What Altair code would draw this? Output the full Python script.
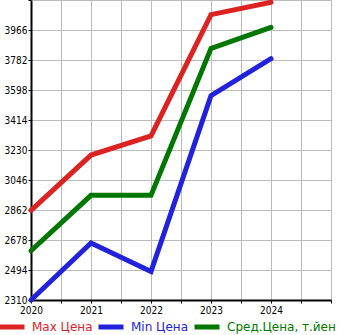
import altair as alt
import pandas as pd

years = [2020, 2021, 2022, 2023, 2024]
max_vals = [2860, 3199, 3316, 4060, 4136]
min_vals = [2310, 2660, 2484, 3563, 3790]
avg_vals = [2612, 2952, 2952, 3853, 3982]
series_names = ["Max Цена", "Min Цена", "Сред.Цена, т.йен"]
series_colors = ["#dd2222", "#2222dd", "#007700"]
y_ticks = [2310, 2494, 2678, 2862, 3046, 3230, 3414, 3598, 3782, 3966, 4150]
x_ticks = [2020, 2020.5, 2021, 2021.5, 2022, 2022.5, 2023, 2023.5, 2024, 2024.5, 2025]

rows = []
for name, vals in zip(series_names, [max_vals, min_vals, avg_vals]):
    for yr, v in zip(years, vals):
        rows.append({"year": yr, "value": v, "series": name})
df = pd.DataFrame(rows)

label_color_expr = (
    "datum.label == 'Max Цена' ? '#dd2222' : "
    "(datum.label == 'Min Цена' ? '#2222dd' : '#007700')"
)

font = "DejaVu Sans Condensed, DejaVu Sans"

chart = alt.Chart(df).mark_line(strokeWidth=5, strokeCap="round", strokeJoin="miter", clip=False).encode(
    x=alt.X("year:Q", scale=alt.Scale(domain=[2020, 2025], nice=False, zero=False),
            axis=alt.Axis(values=x_ticks, title=None, grid=True, gridColor="#bbbbbb",
                          domainColor="#000000", domainWidth=2, tickColor="#000000",
                          tickSize=3, labelFont=font, labelFontSize=10, labelColor="#000000",
                          labelPadding=2, labelFlush=False,
                          labelExpr="(datum.value % 1 == 0 && datum.value < 2025) ? format(datum.value, 'd') : ''")),
    y=alt.Y("value:Q", scale=alt.Scale(domain=[2310, 4150], nice=False, zero=False),
            axis=alt.Axis(values=y_ticks, title=None, grid=True, gridColor="#bbbbbb",
                          domainColor="#000000", domainWidth=2, tickColor="#000000",
                          tickSize=3, labelFont=font, labelFontSize=10, labelColor="#000000",
                          labelPadding=1, labelFlush=False, labelBaseline="middle",
                          labelExpr="datum.value >= 4150 ? '' : format(datum.value, 'd')")),
    color=alt.Color("series:N",
                    scale=alt.Scale(domain=series_names, range=series_colors),
                    sort=series_names,
                    legend=alt.Legend(title=None, orient="none", direction="horizontal",
                                      legendX=-34, legendY=312, symbolType="stroke",
                                      symbolSize=625, symbolStrokeWidth=5,
                                      labelFont="DejaVu Sans", labelFontSize=12,
                                      labelColor=alt.ExprRef(label_color_expr),
                                      labelOffset=5, columnPadding=-5, padding=0)),
).properties(
    width=300, height=300,
    autosize=alt.AutoSizeParams(type="none"),
    padding={"left": 31, "top": 0, "right": 14, "bottom": 35},
).configure_view(fill="#f7f7f7", stroke=None).configure(background="#ffffff")

chart.save("out.html", embed_options={"renderer": "svg", "actions": False})
